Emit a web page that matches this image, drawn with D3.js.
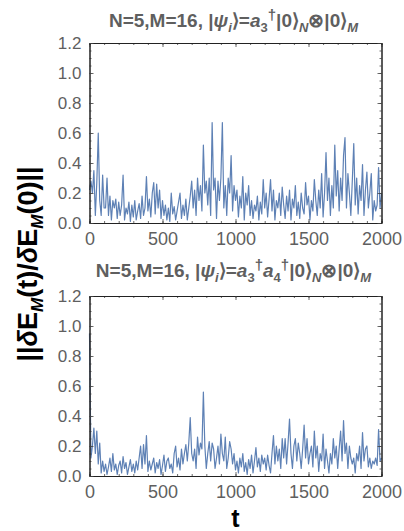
<!DOCTYPE html>
<html><head><meta charset="utf-8">
<script src="https://cdn.jsdelivr.net/npm/d3@7"></script>
<style>
body{margin:0;background:#fff;}
text{font-family:"Liberation Sans",Arial,sans-serif;}
</style></head>
<body><svg id="c" width="404" height="531"></svg>
<script>
const tStep = 10;
const series1 = [
0.22,0.28,0.20,0.35,0.05,0.27,0.60,0.15,0.05,0.32,0.10,
0.10,0.30,0.05,0.18,0.02,0.15,0.10,0.16,0.03,0.14,
0.05,0.12,0.32,0.02,0.10,0.06,0.14,0.01,0.12,0.04,
0.15,0.02,0.08,0.13,0.03,0.18,0.05,0.10,0.31,0.08,
0.16,0.04,0.20,0.27,0.06,0.26,0.10,0.22,0.03,0.15,
0.05,0.12,0.02,0.10,0.01,0.20,0.06,0.11,0.02,0.08,
0.14,0.20,0.03,0.12,0.05,0.16,0.02,0.10,0.18,0.28,
0.10,0.22,0.05,0.30,0.15,0.25,0.08,0.52,0.20,0.28,
0.12,0.30,0.05,0.67,0.22,0.30,0.03,0.28,0.15,0.30,
0.67,0.10,0.25,0.05,0.30,0.20,0.45,0.08,0.25,0.15,
0.22,0.04,0.18,0.10,0.31,0.02,0.20,0.12,0.25,0.05,
0.15,0.03,0.12,0.08,0.18,0.02,0.14,0.06,0.29,0.10,
0.20,0.04,0.16,0.29,0.08,0.22,0.02,0.15,0.10,0.20,
0.05,0.24,0.12,0.03,0.18,0.08,0.22,0.02,0.16,0.10,
0.25,0.05,0.14,0.03,0.20,0.10,0.06,0.27,0.12,0.18,
0.02,0.15,0.08,0.29,0.15,0.05,0.22,0.10,0.33,0.04,
0.20,0.47,0.15,0.30,0.05,0.25,0.10,0.52,0.18,0.35,
0.08,0.30,0.15,0.45,0.57,0.10,0.33,0.20,0.05,0.28,
0.53,0.12,0.30,0.06,0.25,0.15,0.39,0.05,0.22,0.34,
0.10,0.20,0.33,0.02,0.15,0.08,0.12,0.37,0.10,0.20
];
const series2 = [
0.95,0.12,0.20,0.32,0.15,0.30,0.08,0.22,0.02,0.10,0.03,
0.08,0.01,0.06,0.12,0.03,0.15,0.04,0.08,0.01,0.07,
0.10,0.02,0.13,0.05,0.09,0.01,0.06,0.11,0.03,0.08,
0.02,0.10,0.04,0.12,0.20,0.05,0.21,0.08,0.27,0.03,
0.10,0.04,0.08,0.12,0.02,0.09,0.05,0.11,0.01,0.07,
0.14,0.03,0.10,0.12,0.05,0.08,0.02,0.15,0.20,0.06,
0.12,0.04,0.18,0.08,0.15,0.21,0.10,0.22,0.39,0.15,
0.10,0.18,0.05,0.26,0.14,0.22,0.18,0.56,0.20,0.05,
0.15,0.23,0.10,0.22,0.18,0.05,0.12,0.20,0.08,0.28,
0.15,0.10,0.26,0.05,0.12,0.23,0.18,0.08,0.15,0.04,
0.10,0.02,0.12,0.06,0.15,0.03,0.09,0.01,0.11,0.05,
0.14,0.02,0.10,0.19,0.06,0.12,0.03,0.14,0.08,0.12,
0.04,0.14,0.07,0.02,0.15,0.27,0.08,0.20,0.10,0.18,
0.05,0.25,0.12,0.25,0.08,0.22,0.38,0.15,0.05,0.20,
0.25,0.10,0.22,0.15,0.05,0.18,0.34,0.12,0.25,0.08,
0.15,0.20,0.06,0.30,0.12,0.20,0.03,0.15,0.10,0.28,
0.05,0.18,0.10,0.02,0.15,0.08,0.25,0.12,0.20,0.05,
0.18,0.30,0.10,0.37,0.15,0.22,0.05,0.20,0.12,0.08,
0.12,0.02,0.15,0.10,0.20,0.05,0.29,0.10,0.18,0.20,
0.06,0.12,0.05,0.10,0.08,0.12,0.07,0.31,0.10,0.12
];
const xTicks = [0,500,1000,1500,2000];
const yTicks = [0,0.2,0.4,0.6,0.8,1.0,1.2];
const xLabel = "t";

const svg = d3.select("#c");
const L = 89.5, R = 381.5;
const panels = [
  {data: series1, top: 43, bottom: 223, titleY: 27, sub: [["a","3"]]},
  {data: series2, top: 296, bottom: 476, titleY: 277, sub: [["a","3"],["a","4"]]}
];
const grey = "#5f5f5f";
const lineColor = "#5E81B5";

panels.forEach(p => {
  const x = d3.scaleLinear().domain([0,2000]).range([L,R]);
  const y = d3.scaleLinear().domain([0,1.2]).range([p.bottom,p.top]);
  const g = svg.append("g");

  const line = d3.line().x((d,i)=>x(i*tStep)).y(d=>y(d));
  g.append("path").datum(p.data).attr("d",line).attr("fill","none")
    .attr("stroke",lineColor).attr("stroke-width",1.2).attr("stroke-linejoin","round");

  const minorX = d3.range(0,2001,100);
  const minorY = d3.range(0,1.2001,0.05);
  const mk = (axis, tr) => {
    const a = g.append("g").attr("transform",tr).call(axis);
    a.select(".domain").attr("stroke","#222").attr("stroke-width",1);
    a.selectAll(".tick line").attr("stroke","#444").attr("stroke-width",0.8);
    return a;
  };
  mk(d3.axisBottom(x).tickValues(minorX).tickSize(-2).tickFormat(""), `translate(0,${p.bottom})`);
  mk(d3.axisTop(x).tickValues(minorX).tickSize(-2).tickFormat(""), `translate(0,${p.top})`);
  mk(d3.axisLeft(y).tickValues(minorY).tickSize(-2).tickFormat(""), `translate(${L},0)`);
  mk(d3.axisRight(y).tickValues(minorY).tickSize(-2).tickFormat(""), `translate(${R},0)`);
  const xb = mk(d3.axisBottom(x).tickValues(xTicks).tickSizeInner(-4).tickSizeOuter(0).tickPadding(9).tickFormat(d3.format("d")), `translate(0,${p.bottom})`);
  xb.selectAll("text").attr("font-size",18).attr("fill",grey).style("font-family","Liberation Sans");
  mk(d3.axisTop(x).tickValues(xTicks).tickSizeInner(-4).tickSizeOuter(0).tickFormat(""), `translate(0,${p.top})`);
  const yl = mk(d3.axisLeft(y).tickValues(yTicks).tickSizeInner(-4).tickSizeOuter(0).tickPadding(8).tickFormat(d3.format(".1f")), `translate(${L},0)`);
  yl.selectAll("text").attr("font-size",17).attr("fill",grey).style("font-family","Liberation Sans");
  mk(d3.axisRight(y).tickValues(yTicks).tickSizeInner(-4).tickSizeOuter(0).tickFormat(""), `translate(${R},0)`);

  const t = svg.append("text").attr("x",(L+R)/2 - 2).attr("y",p.titleY).attr("text-anchor","middle")
    .attr("font-size",19).attr("font-weight","bold").attr("fill",grey);
  let off = 0;
  const add = (txt, o = {}) => {
    const target = o.shift || 0;
    const s = t.append("tspan").attr("dy", target - off).text(txt);
    off = target;
    if (o.size) s.attr("font-size", o.size);
    if (o.italic) s.attr("font-style","italic");
    return s;
  };
  add("N=5,M=16, |");
  add("ψ",{italic:true});
  add("i",{italic:true,size:13,shift:5});
  add("⟩=");
  p.sub.forEach(s => {
    add(s[0],{italic:true});
    add(s[1],{size:13,shift:5});
    add("†",{size:15,shift:-7});
  });
  add("|0⟩");
  add("N",{italic:true,size:13,shift:5});
  add("⊗|0⟩");
  add("M",{italic:true,size:13,shift:5});
});

const yLab = svg.append("text").attr("transform","translate(37,264) rotate(-90)")
  .attr("text-anchor","middle").attr("font-size",27).attr("font-weight","bold").attr("fill","#000");
yLab.append("tspan").text("||");
yLab.append("tspan").attr("font-style","italic").text("δ");
yLab.append("tspan").text("E");
yLab.append("tspan").attr("font-style","italic").attr("font-size",17).attr("dy",6).text("M");
yLab.append("tspan").attr("dy",-6).text("(t)/");
yLab.append("tspan").attr("font-style","italic").text("δ");
yLab.append("tspan").text("E");
yLab.append("tspan").attr("font-style","italic").attr("font-size",17).attr("dy",6).text("M");
yLab.append("tspan").attr("dy",-6).text("(0)||");

svg.append("text").attr("x",(L+R)/2).attr("y",527).attr("text-anchor","middle")
  .attr("font-size",25).attr("font-weight","bold").attr("fill","#000").text(xLabel);
</script></body></html>
